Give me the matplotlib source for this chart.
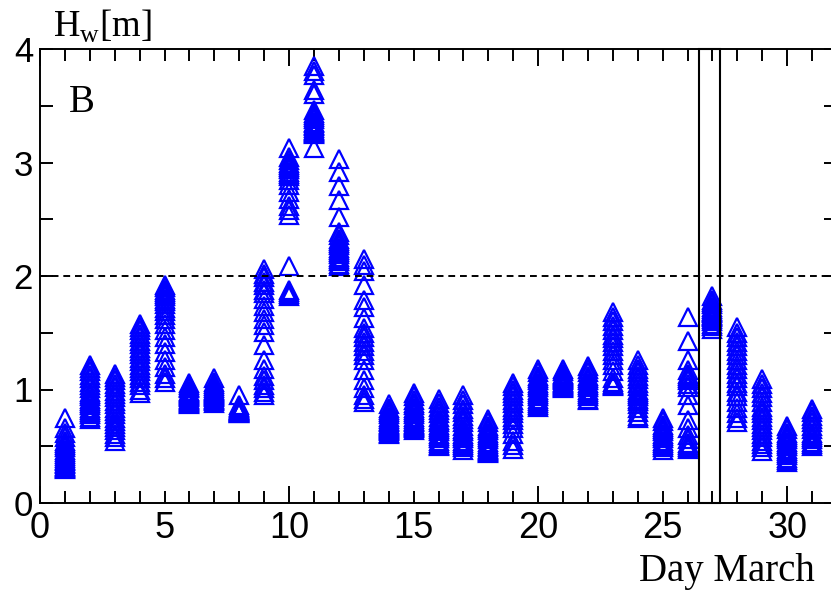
import numpy as np
import matplotlib
matplotlib.use('Agg')
import matplotlib.pyplot as plt
from matplotlib.ticker import MultipleLocator, FuncFormatter
from matplotlib.patches import Rectangle

# wave height Hw [m], one list per day of March
mar01 = [0.75, 0.66, 0.62, 0.58, 0.55, 0.53, 0.51, 0.49, 0.47, 0.45, 0.43, 0.41, 0.40, 0.38, 0.37, 0.35, 0.34, 0.33, 0.32, 0.31, 0.30]
mar02 = [1.22, 1.19, 1.16, 1.13, 1.10, 1.07, 1.04, 1.01, 0.98, 0.96, 0.94, 0.92, 0.90, 0.88, 0.86, 0.84, 0.82, 0.80, 0.78, 0.76, 0.74]
mar03 = [1.14, 1.11, 1.08, 1.05, 1.02, 0.99, 0.96, 0.93, 0.90, 0.87, 0.84, 0.81, 0.78, 0.75, 0.72, 0.70, 0.67, 0.64, 0.61, 0.58, 0.55]
mar04 = [1.58, 1.55, 1.52, 1.49, 1.46, 1.43, 1.40, 1.37, 1.34, 1.31, 1.28, 1.25, 1.22, 1.19, 1.16, 1.13, 1.10, 1.07, 1.04, 1.00, 0.97]
mar05 = [1.92, 1.90, 1.88, 1.86, 1.84, 1.82, 1.80, 1.78, 1.75, 1.72, 1.69, 1.66, 1.62, 1.58, 1.52, 1.46, 1.40, 1.33, 1.26, 1.20, 1.14, 1.10, 1.07]
mar06 = [1.06, 1.04, 1.02, 1.01, 0.99, 0.98, 0.97, 0.96, 0.95, 0.94, 0.93, 0.92, 0.91, 0.90, 0.89, 0.88, 0.87]
mar07 = [1.10, 1.07, 1.05, 1.03, 1.01, 1.00, 0.99, 0.98, 0.97, 0.96, 0.95, 0.94, 0.93, 0.92, 0.91, 0.90, 0.88]
mar08 = [0.95, 0.86, 0.85, 0.84, 0.83, 0.82, 0.82, 0.81, 0.81, 0.80, 0.80, 0.79, 0.79]
mar09 = [2.06, 2.02, 1.99, 1.95, 1.92, 1.88, 1.85, 1.80, 1.74, 1.68, 1.62, 1.57, 1.51, 1.39, 1.26, 1.18, 1.12, 1.08, 1.04, 1.01, 0.98, 0.95]
mar10 = [3.13, 3.05, 3.02, 3.00, 2.98, 2.96, 2.94, 2.92, 2.90, 2.88, 2.85, 2.80, 2.74, 2.68, 2.62, 2.58, 2.54, 2.09, 1.88, 1.86, 1.84, 1.82]
mar11 = [3.85, 3.81, 3.77, 3.64, 3.60, 3.46, 3.44, 3.42, 3.40, 3.38, 3.36, 3.35, 3.33, 3.32, 3.30, 3.29, 3.28, 3.27, 3.26, 3.25, 3.13]
mar12 = [3.03, 2.92, 2.79, 2.67, 2.52, 2.39, 2.36, 2.33, 2.31, 2.29, 2.27, 2.25, 2.23, 2.21, 2.19, 2.17, 2.15, 2.13, 2.11, 2.09]
mar13 = [2.15, 2.10, 2.04, 1.92, 1.79, 1.73, 1.63, 1.54, 1.50, 1.46, 1.42, 1.38, 1.34, 1.30, 1.26, 1.17, 1.08, 1.01, 0.95, 0.92, 0.89]
mar14 = [0.87, 0.84, 0.82, 0.80, 0.78, 0.76, 0.74, 0.72, 0.71, 0.70, 0.69, 0.68, 0.67, 0.66, 0.65, 0.64, 0.63, 0.62, 0.61]
mar15 = [0.97, 0.94, 0.91, 0.88, 0.86, 0.84, 0.82, 0.80, 0.78, 0.76, 0.74, 0.72, 0.71, 0.70, 0.69, 0.68, 0.67, 0.66, 0.64]
mar16 = [0.92, 0.88, 0.85, 0.82, 0.79, 0.76, 0.73, 0.71, 0.69, 0.67, 0.65, 0.63, 0.61, 0.59, 0.57, 0.55, 0.53, 0.51, 0.50]
mar17 = [0.95, 0.91, 0.87, 0.83, 0.80, 0.77, 0.74, 0.71, 0.68, 0.65, 0.63, 0.61, 0.59, 0.57, 0.55, 0.53, 0.51, 0.49, 0.47]
mar18 = [0.74, 0.71, 0.68, 0.66, 0.64, 0.62, 0.60, 0.58, 0.56, 0.54, 0.52, 0.50, 0.49, 0.48, 0.47, 0.46, 0.45, 0.44]
mar19 = [1.06, 1.03, 1.00, 0.97, 0.94, 0.91, 0.88, 0.85, 0.82, 0.79, 0.76, 0.73, 0.70, 0.66, 0.61, 0.55, 0.51, 0.48]
mar20 = [1.18, 1.15, 1.12, 1.10, 1.08, 1.06, 1.04, 1.02, 1.00, 0.98, 0.96, 0.94, 0.92, 0.90, 0.88, 0.86, 0.85]
mar21 = [1.18, 1.16, 1.14, 1.13, 1.12, 1.11, 1.10, 1.09, 1.08, 1.07, 1.06, 1.05, 1.04, 1.03, 1.02, 1.01]
mar22 = [1.21, 1.18, 1.15, 1.12, 1.10, 1.08, 1.06, 1.04, 1.02, 1.00, 0.98, 0.96, 0.94, 0.92, 0.91]
mar23 = [1.68, 1.64, 1.60, 1.56, 1.52, 1.48, 1.45, 1.42, 1.38, 1.34, 1.30, 1.26, 1.22, 1.16, 1.10, 1.07, 1.05, 1.04, 1.03]
mar24 = [1.26, 1.22, 1.18, 1.15, 1.12, 1.09, 1.06, 1.03, 1.00, 0.98, 0.96, 0.94, 0.92, 0.90, 0.87, 0.84, 0.80, 0.77, 0.75]
mar25 = [0.75, 0.72, 0.69, 0.67, 0.65, 0.63, 0.61, 0.59, 0.57, 0.55, 0.53, 0.51, 0.49, 0.47]
mar26 = [1.64, 1.43, 1.26, 1.17, 1.14, 1.12, 1.10, 1.08, 1.05, 1.02, 0.95, 0.86, 0.73, 0.66, 0.60, 0.56, 0.53, 0.51, 0.49, 0.48]
mar27 = [1.82, 1.79, 1.77, 1.75, 1.73, 1.71, 1.69, 1.68, 1.67, 1.66, 1.65, 1.64, 1.62, 1.60, 1.58, 1.56, 1.53]
mar28 = [1.55, 1.50, 1.46, 1.42, 1.38, 1.34, 1.30, 1.26, 1.22, 1.18, 1.14, 1.10, 1.06, 1.03, 0.98, 0.94, 0.89, 0.84, 0.79, 0.75, 0.71]
mar29 = [1.09, 1.05, 1.01, 0.97, 0.93, 0.89, 0.85, 0.82, 0.79, 0.76, 0.73, 0.70, 0.67, 0.64, 0.61, 0.58, 0.55, 0.52, 0.49, 0.46]
mar30 = [0.68, 0.65, 0.62, 0.60, 0.58, 0.56, 0.54, 0.52, 0.50, 0.48, 0.46, 0.44, 0.42, 0.40, 0.38, 0.36]
mar31 = [0.83, 0.80, 0.77, 0.74, 0.71, 0.68, 0.65, 0.62, 0.60, 0.58, 0.56, 0.54, 0.52, 0.50]

days = list(range(1, 32))
hw_by_day = [mar01, mar02, mar03, mar04, mar05, mar06, mar07, mar08, mar09, mar10,
             mar11, mar12, mar13, mar14, mar15, mar16, mar17, mar18, mar19, mar20,
             mar21, mar22, mar23, mar24, mar25, mar26, mar27, mar28, mar29, mar30, mar31]

threshold = 2.0
window = (26.47, 27.31)  # highlighted day

sans = ['Liberation Sans', 'DejaVu Sans']
serif = ['Liberation Serif', 'DejaVu Serif']

fig = plt.figure(figsize=(8.31, 5.97), dpi=100)
# right spine sits just past the image edge, as in the original
ax = fig.add_axes([40 / 831, 1 - 503 / 597, 797 / 831, 454 / 597])

for day, vals in zip(days, hw_by_day):
    ax.plot(np.full(len(vals), day), vals, ls='none', marker='^', ms=13.5,
            mfc='none', mec='#0000ff', mew=1.6, zorder=2)

ax.axhline(threshold, color='black', lw=1.4, ls=(0, (3.5, 2.5)), zorder=3)
ax.add_patch(Rectangle((window[0], 0), window[1] - window[0], 4, fill=False,
                       ec='black', lw=1.5, zorder=4, clip_on=False))

ax.set_xlim(0, 32.0)
ax.set_ylim(0, 4)

ax.xaxis.set_major_locator(MultipleLocator(10))
ax.xaxis.set_minor_locator(MultipleLocator(1))
ax.xaxis.set_minor_formatter(FuncFormatter(lambda v, p: f'{v:.0f}' if round(v) % 5 == 0 else ''))
ax.yaxis.set_major_locator(MultipleLocator(1))
ax.yaxis.set_minor_locator(MultipleLocator(0.5))

ax.tick_params(axis='both', which='both', direction='in', top=True, right=True, width=1.4)
ax.tick_params(axis='x', which='major', length=12.5, pad=6)
ax.tick_params(axis='x', which='minor', length=8.6, pad=6)
ax.tick_params(axis='y', which='both', length=9.1, pad=5)

for lab in ax.get_xticklabels(which='both'):
    lab.set_fontfamily(sans)
    lab.set_fontsize(26)
for lab in ax.get_yticklabels():
    lab.set_fontfamily(sans)
    lab.set_fontsize(25)

for sp in ax.spines.values():
    sp.set_linewidth(1.4)

ax.text(29 / 797, 391 / 454, 'B', transform=ax.transAxes, family=serif,
        fontsize=28, va='baseline', ha='left')
fig.text(53 / 831, 1 - 37 / 597, r'H$_\mathregular{w}$[m]', family=serif,
         fontsize=26.5, va='baseline', ha='left')
fig.text(815 / 831, 1 - 581 / 597, 'Day March', family=serif,
         fontsize=28, va='baseline', ha='right')

fig.savefig('out.png', dpi=100)
